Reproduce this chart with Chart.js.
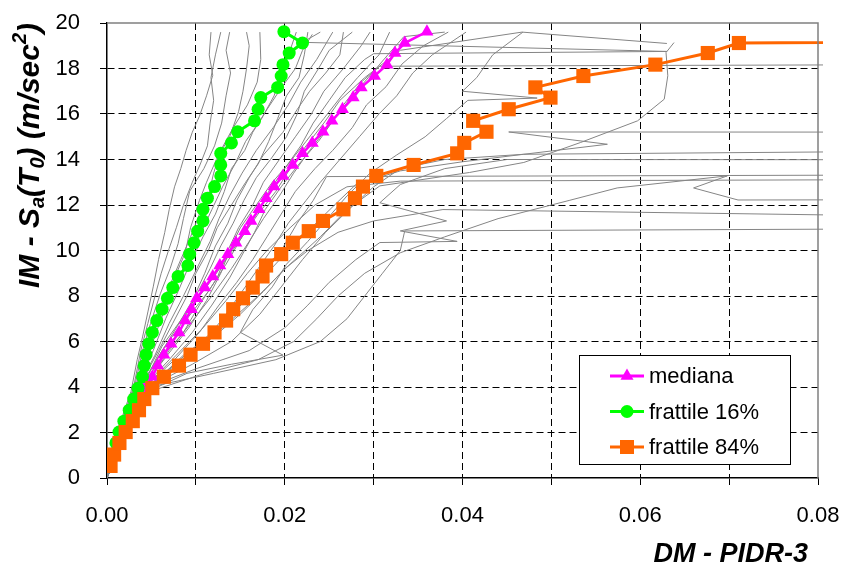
<!DOCTYPE html>
<html>
<head>
<meta charset="utf-8">
<script src="https://cdn.jsdelivr.net/npm/chart.js@4.4.1/dist/chart.umd.min.js"></script>
<style>
  html, body { margin: 0; padding: 0; background: #fff; }
  #wrap { width: 846px; height: 569px; }
</style>
</head>
<body>
<div id="wrap"><canvas id="ida" width="846" height="569"></canvas></div>
<script>
// ---- Intensity levels (Sa(T0), m/sec^2) used for the fractile curves ----
const imLevels = [0.53, 1.03, 1.54, 2.02, 2.5, 2.98, 3.47, 3.95, 4.45, 4.94,
  5.42, 5.9, 6.4, 6.92, 7.42, 7.9, 8.37, 8.86, 9.34, 9.84,
  10.34, 10.85, 11.3, 11.81, 12.3, 12.81, 13.28, 13.76, 14.27, 14.73,
  15.22, 15.7, 16.21, 16.72, 17.17, 17.67, 18.17, 18.68, 19.12, 19.62];

// PIDR-3 at each level: median, 16% and 84% fractiles
const medianDM = [0.0003, 0.0007, 0.0012, 0.0017, 0.0023, 0.0029, 0.0035, 0.0042, 0.0051, 0.0057,
  0.0064, 0.0072, 0.0081, 0.0088, 0.0095, 0.0101, 0.0110, 0.0119, 0.0127, 0.0136,
  0.0145, 0.0155, 0.0162, 0.0171, 0.0179, 0.0188, 0.0198, 0.0209, 0.0220, 0.0231,
  0.0243, 0.0253, 0.0265, 0.0277, 0.0286, 0.0301, 0.0315, 0.0324, 0.0335, 0.0360];
const fract16DM = [0.0002, 0.0006, 0.0010, 0.00135, 0.0019, 0.0025, 0.0030, 0.0035, 0.0040, 0.0042,
  0.0044, 0.0047, 0.0051, 0.0056, 0.0062, 0.0068, 0.0074, 0.0080, 0.0091, 0.0093,
  0.0098, 0.0102, 0.0108, 0.0108, 0.0113, 0.0121, 0.0128, 0.0128, 0.0128, 0.0140,
  0.0147, 0.0166, 0.0170, 0.0173, 0.0192, 0.0196, 0.0198, 0.0205, 0.0220, 0.0199];
const fract84DM = [0.0004, 0.0008, 0.0014, 0.0021, 0.0029, 0.0036, 0.0042, 0.0051, 0.0064, 0.0081,
  0.0094, 0.0108, 0.0121, 0.0134, 0.0142, 0.0153, 0.0164, 0.0175, 0.0179, 0.0196,
  0.0209, 0.0227, 0.0243, 0.0266, 0.0279, 0.0288, 0.0303, 0.0345, 0.0394, 0.0402,
  0.0427, 0.0412, 0.0452, 0.0499, 0.0482, 0.0536, 0.0617, 0.0676, 0.0711, 0.2500];

// ---- Single-record IDA curves: [PIDR-3, Sa] ----
const g01 = [[0,0],[0.0011,2.0],[0.0027,3.8],[0.0034,5.2],[0.0040,6.2],[0.0046,7.3],[0.0052,8.4],[0.0058,9.6],[0.0065,10.8],[0.0070,11.8],[0.0076,12.8],[0.0083,13.6],[0.0089,14.4],[0.0096,15.2],[0.0104,15.9],[0.0112,16.8],[0.0119,17.7],[0.0115,18.6],[0.0117,19.6]];
const g02 = [[0,0],[0.0012,2.0],[0.0030,4.0],[0.0038,5.6],[0.0046,6.8],[0.0054,8.0],[0.0061,9.0],[0.0070,10.1],[0.0078,11.0],[0.0086,12.0],[0.0096,13.0],[0.0105,13.8],[0.0113,14.6],[0.0116,15.6],[0.0120,16.6],[0.0117,17.6],[0.0122,18.6],[0.0128,19.6]];
const g03 = [[0,0],[0.0012,2.0],[0.0031,4.0],[0.0040,5.6],[0.0049,6.8],[0.0060,8.1],[0.0071,9.2],[0.0080,10.3],[0.0086,11.4],[0.0093,12.6],[0.0109,13.6],[0.0121,14.6],[0.0129,15.6],[0.0134,16.8],[0.0139,17.8],[0.0134,18.8],[0.0138,19.6]];
const g04 = [[0,0],[0.0013,2.0],[0.0032,4.0],[0.0042,5.4],[0.0051,6.4],[0.0062,7.6],[0.0076,8.8],[0.0088,9.9],[0.0094,11.0],[0.0104,12.2],[0.0112,13.0],[0.0123,14.0],[0.0138,15.0],[0.0148,16.1],[0.0153,17.0],[0.0157,18.0],[0.0160,19.0],[0.0157,19.6]];
const g05 = [[0,0],[0.0013,2.0],[0.0033,4.0],[0.0044,5.8],[0.0056,7.2],[0.0070,8.4],[0.0083,9.6],[0.0094,10.6],[0.0104,11.6],[0.0114,12.4],[0.0120,13.4],[0.0128,14.4],[0.0142,15.4],[0.0158,16.4],[0.0169,17.4],[0.0173,18.4],[0.0172,19.6]];
const g06 = [[0,0],[0.0014,2.0],[0.0033,4.0],[0.0048,5.6],[0.0061,7.0],[0.0076,8.4],[0.0090,9.6],[0.0106,10.8],[0.0118,11.8],[0.0130,12.8],[0.0144,13.8],[0.0156,14.8],[0.0174,15.8],[0.0188,16.8],[0.0196,17.8],[0.0206,18.8],[0.0213,19.6]];
const g07 = [[0,0],[0.0014,2.0],[0.0034,4.0],[0.0052,5.6],[0.0066,7.0],[0.0080,8.2],[0.0093,9.4],[0.0108,10.6],[0.0122,11.6],[0.0132,12.6],[0.0140,13.6],[0.0155,14.4],[0.0164,15.2],[0.0180,16.2],[0.0197,17.2],[0.0212,18.0],[0.0220,18.8],[0.0231,19.5]];
const g08 = [[0,0],[0.0015,2.0],[0.0035,4.0],[0.0054,5.4],[0.0070,6.8],[0.0086,8.0],[0.0101,9.2],[0.0116,10.4],[0.0126,11.4],[0.0138,12.4],[0.0152,13.4],[0.0168,14.4],[0.0187,15.4],[0.0204,16.4],[0.0218,17.4],[0.0236,18.4],[0.0254,19.6]];
const g09 = [[0,0],[0.0015,2.0],[0.0036,4.0],[0.0058,5.6],[0.0074,6.8],[0.0090,8.0],[0.0100,9.0],[0.0114,10.0],[0.0124,11.0],[0.0140,12.0],[0.0156,13.0],[0.0170,13.8],[0.0182,14.8],[0.0192,15.8],[0.0202,16.8],[0.0216,17.6],[0.0222,18.6],[0.0226,19.6]];
const g10 = [[0,0],[0.0015,2.0],[0.0037,4.0],[0.0059,5.4],[0.0078,6.6],[0.0096,7.8],[0.0110,9.0],[0.0122,10.2],[0.0136,11.2],[0.0146,12.2],[0.0160,13.2],[0.0176,14.2],[0.0198,15.2],[0.0214,16.2],[0.0228,17.0],[0.0246,17.8],[0.0262,18.6],[0.0266,19.6]];
const g11 = [[0,0],[0.0016,2.0],[0.0038,4.0],[0.0062,5.6],[0.0084,6.8],[0.0100,8.0],[0.0116,9.2],[0.0128,10.2],[0.0142,11.2],[0.0154,12.2],[0.0168,13.2],[0.0184,14.0],[0.0202,15.0],[0.0214,16.0],[0.0222,17.0],[0.0238,18.0],[0.0250,18.8],[0.0276,19.6]];
const g12 = [[0,0],[0.0016,2.0],[0.0039,4.0],[0.0064,5.4],[0.0086,6.4],[0.0104,7.6],[0.0124,8.8],[0.0136,10.0],[0.0148,11.0],[0.0164,12.0],[0.0176,13.0],[0.0194,14.0],[0.0212,15.0],[0.0230,16.0],[0.0244,17.0],[0.0266,18.0],[0.0286,19.0],[0.0296,19.6]];
const g13 = [[0,0],[0.0017,2.0],[0.0040,4.0],[0.0068,5.4],[0.0092,6.6],[0.0112,7.8],[0.0128,9.0],[0.0140,10.2],[0.0150,11.0],[0.0168,12.0],[0.0186,13.0],[0.0204,13.8],[0.0224,14.8],[0.0244,15.8],[0.0264,16.8],[0.0282,17.6],[0.0306,18.6],[0.0318,19.6]];
const g14 = [[0,0],[0.0017,2.0],[0.0041,4.0],[0.0070,5.2],[0.0096,6.4],[0.0118,7.6],[0.0138,8.8],[0.0152,9.8],[0.0166,10.8],[0.0178,11.8],[0.0196,12.8],[0.0216,13.8],[0.0238,14.8],[0.0256,15.8],[0.0272,16.6],[0.0294,17.6],[0.0316,18.6],[0.0334,19.4],[0.0380,19.6]];
const g15 = [[0,0],[0.0018,2.0],[0.0043,4.0],[0.0076,5.2],[0.0104,6.4],[0.0126,7.6],[0.0146,8.6],[0.0164,9.6],[0.0180,10.6],[0.0196,11.6],[0.0212,12.6],[0.0234,13.6],[0.0254,14.4],[0.0276,15.4],[0.0292,16.4],[0.0314,17.2],[0.0332,18.2],[0.0356,19.0],[0.0384,19.6]];
const g16 = [[0,0],[0.0018,2.0],[0.0044,4.0],[0.0080,5.0],[0.0110,6.0],[0.0134,7.2],[0.0152,8.2],[0.0170,9.2],[0.0188,10.2],[0.0204,11.2],[0.0224,12.2],[0.0240,13.0],[0.0262,14.0],[0.0284,15.0],[0.0306,16.0],[0.0326,16.8],[0.0344,17.8],[0.0366,18.6],[0.0404,19.6]];
const g17 = [[0,0],[0.0019,2.0],[0.0046,3.8],[0.0090,4.6],[0.0140,5.0],[0.0198,5.4],[0.0150,6.4],[0.0164,7.4],[0.0186,8.4],[0.0202,9.4],[0.0226,10.4],[0.0248,11.4],[0.0270,12.4],[0.0296,13.4],[0.0326,14.2],[0.0358,15.0],[0.0382,15.8],[0.0406,16.6],[0.0484,16.7],[0.0400,17.0],[0.0416,17.6],[0.0434,18.6],[0.0468,19.6]];
const g18 = [[0,0],[0.0020,2.0],[0.0048,4.0],[0.0086,5.4],[0.0130,6.6],[0.0170,8.0],[0.0206,9.4],[0.0240,10.6],[0.0270,11.8],[0.0307,12.84],[0.0408,13.43],[0.0469,13.87],[0.0533,14.75],[0.0597,15.7],[0.0627,16.65],[0.0631,17.68],[0.0629,18.7],[0.0638,19.14]];
const g19 = [[0,0],[0.0017,2.0],[0.0040,4.0],[0.0062,5.8],[0.0088,7.2],[0.0112,8.4],[0.0134,9.6],[0.0152,10.6],[0.0168,11.6],[0.0182,12.6],[0.0200,13.6],[0.0218,14.6],[0.0232,15.6],[0.0250,16.6],[0.0268,17.6],[0.0290,18.4],[0.0300,18.65],[0.0630,18.75],[0.0220,19.15],[0.0240,19.6]];
const g20 = [[0,0],[0.0018,2.0],[0.0042,4.0],[0.0070,5.6],[0.0094,6.8],[0.0118,8.0],[0.0140,9.2],[0.0160,10.4],[0.0176,11.4],[0.0194,12.4],[0.0210,13.4],[0.0228,14.4],[0.0248,15.4],[0.0266,16.4],[0.0286,17.4],[0.0307,18.1],[0.1200,18.2]];
const g21 = [[0,0],[0.0019,2.0],[0.0046,4.0],[0.0090,5.2],[0.0122,6.4],[0.0150,7.6],[0.0174,8.8],[0.0196,10.0],[0.0214,11.2],[0.0232,12.2],[0.0247,13.25],[0.1200,13.35]];
const g22 = [[0,0],[0.0020,2.0],[0.0047,4.0],[0.0096,5.0],[0.0140,6.0],[0.0172,7.2],[0.0196,8.4],[0.0220,9.6],[0.0246,10.8],[0.0272,11.8],[0.0300,12.8],[0.0330,13.6],[0.0380,14.0],[0.0469,14.23],[0.0563,14.67],[0.0452,15.21],[0.1200,15.2]];
const g23 = [[0,0],[0.0021,2.0],[0.0048,3.8],[0.0110,4.6],[0.0170,5.2],[0.0210,6.0],[0.0236,7.0],[0.0260,8.0],[0.0290,9.0],[0.0330,9.9],[0.0380,10.6],[0.0440,11.4],[0.0520,12.2],[0.0574,12.75],[0.0698,13.28],[0.0660,12.75],[0.0710,12.22],[0.1200,12.25]];
const g24 = [[0,0],[0.0020,2.0],[0.0047,4.0],[0.0100,4.8],[0.0160,5.6],[0.0200,6.6],[0.0226,7.6],[0.0250,8.6],[0.0280,9.6],[0.0307,10.35],[0.0394,10.4],[0.0330,10.86],[0.0382,11.3],[0.0307,12.1],[0.0330,12.9],[0.0380,13.6],[0.0450,14.0],[0.1200,13.98]];
const g25 = [[0,0],[0.0021,2.0],[0.0048,4.0],[0.0120,4.6],[0.0190,5.2],[0.0240,6.0],[0.0270,7.0],[0.0290,8.0],[0.0310,9.0],[0.0330,10.0],[0.0335,10.86],[0.1200,11.0]];
const g26 = [[0,0],[0.0019,2.0],[0.0045,4.0],[0.0084,5.2],[0.0120,6.2],[0.0150,7.2],[0.0176,8.2],[0.0200,9.2],[0.0226,10.0],[0.0260,10.8],[0.0300,11.3],[0.0378,11.8],[0.1200,11.35]];
const g27 = [[0,0],[0.0020,2.0],[0.0046,4.0],[0.0088,5.4],[0.0124,6.6],[0.0156,7.8],[0.0180,9.0],[0.0204,10.0],[0.0230,11.0],[0.0256,12.0],[0.0280,12.9],[0.0330,13.5],[0.0400,13.9],[0.0469,14.23],[0.1200,14.45]];
const g28 = [[0,0],[0.0016,2.0],[0.0039,4.0],[0.0066,5.6],[0.0090,7.0],[0.0114,8.2],[0.0134,9.4],[0.0152,10.6],[0.0170,11.6],[0.0190,12.6],[0.0206,13.6],[0.0224,14.6],[0.0244,15.6],[0.0262,16.6],[0.0290,17.6],[0.0330,18.8],[0.0467,19.6],[0.0630,19.1]];
const g29 = [[0,0],[0.0018,2.0],[0.0043,4.0],[0.0078,5.4],[0.0108,6.6],[0.0134,7.8],[0.0158,9.0],[0.0180,10.0],[0.0206,11.0],[0.0234,12.0],[0.0270,12.8],[0.0330,13.05],[0.1200,13.15]];

const recordCurves = [g01, g02, g03, g04, g05, g06, g07, g08, g09, g10, g11, g12, g13, g14, g15,
  g16, g17, g18, g19, g20, g21, g22, g23, g24, g25, g26, g27, g28, g29];

// ---- Axis tick labels ----
const xTickLabels = ['0.00', '0.02', '0.04', '0.06', '0.08'];
const yTickLabels = ['0', '2', '4', '6', '8', '10', '12', '14', '16', '18', '20'];

// ---- Series names ----
const seriesNames = ['mediana', 'frattile 16%', 'frattile 84%'];

const FONT = '"Liberation Sans", Arial, Helvetica, sans-serif';

function curve(dm) {
  return dm.map((d, i) => ({ x: d, y: imLevels[i] }));
}

const datasets = [];
recordCurves.forEach((rec) => {
  datasets.push({
    data: rec.map(p => ({ x: p[0], y: p[1] })),
    showLine: true,
    borderColor: '#858585',
    borderWidth: 1,
    pointRadius: 0,
    tension: 0,
    order: 10,
    clip: { left: 0, top: 0, right: 5, bottom: 0 }
  });
});
datasets.push({
  label: seriesNames[0], data: curve(medianDM), showLine: true,
  borderColor: '#ff00ff', backgroundColor: '#ff00ff', borderWidth: 2.5,
  pointStyle: 'triangle', pointRadius: 7.5, pointBorderWidth: 0, order: 3
});
datasets.push({
  label: seriesNames[1], data: curve(fract16DM), showLine: true,
  borderColor: '#00ff00', backgroundColor: '#00ff00', borderWidth: 3,
  pointStyle: 'circle', pointRadius: 6.5, pointBorderWidth: 0, order: 2
});
datasets.push({
  label: seriesNames[2], data: curve(fract84DM), showLine: true,
  borderColor: '#ff6600', backgroundColor: '#ff6600', borderWidth: 3,
  pointStyle: 'rect', pointRadius: 10, pointBorderWidth: 0, order: 1,
  clip: { left: 0, top: 0, right: 5, bottom: 0 }
});

// Plot frame: grey top and right edges
const framePlugin = {
  id: 'frame',
  afterDatasetsDraw(chart) {
    const { ctx, chartArea: a } = chart;
    ctx.save();
    ctx.strokeStyle = '#808080';
    ctx.lineWidth = 1.5;
    ctx.beginPath();
    ctx.moveTo(a.left, a.top);
    ctx.lineTo(a.right, a.top);
    ctx.lineTo(a.right, a.bottom);
    ctx.stroke();
    ctx.restore();
  }
};

function drawRich(ctx, parts, size) {
  let x = 0;
  for (const [t, k] of parts) {
    const s = k ? Math.round(size * 0.66) : size;
    ctx.font = `italic bold ${s}px ${FONT}`;
    const dy = k === 'sub' ? size * 0.16 : (k === 'sup' ? -size * 0.42 : 0);
    ctx.fillText(t, x, dy);
    x += ctx.measureText(t).width;
  }
}

// Axis titles (with sub/superscripts on the IM axis)
const titlePlugin = {
  id: 'axisTitles',
  afterDraw(chart) {
    const { ctx, chartArea: a } = chart;
    ctx.save();
    ctx.fillStyle = '#000';
    ctx.textBaseline = 'alphabetic';
    ctx.textAlign = 'left';
    ctx.translate(a.left - 68, 288);
    ctx.rotate(-Math.PI / 2);
    drawRich(ctx, [['IM - S', null], ['a', 'sub'], ['(T', null], ['0', 'sub'],
      [') (m/sec', null], ['2', 'sup'], [')', null]], 30);
    ctx.restore();

    ctx.save();
    ctx.fillStyle = '#000';
    ctx.font = `italic bold 27px ${FONT}`;
    ctx.textAlign = 'right';
    ctx.textBaseline = 'alphabetic';
    ctx.fillText('DM - PIDR-3', a.right - 10, 562);
    ctx.restore();
  }
};

// Boxed legend inside the plot, lower right
const legendPlugin = {
  id: 'boxLegend',
  afterDraw(chart) {
    const { ctx, chartArea: a } = chart;
    const w = 211, h = 109;
    const x0 = a.right - 28 - w, y0 = a.bottom - 14 - h;
    ctx.save();
    ctx.fillStyle = '#fff';
    ctx.fillRect(x0, y0, w, h);
    ctx.strokeStyle = '#000';
    ctx.lineWidth = 1;
    ctx.strokeRect(x0 + 0.5, y0 + 0.5, w, h);
    const entries = chart.data.datasets.filter(d => d.label);
    entries.forEach((d, i) => {
      const cy = y0 + 21 + i * 35.5;
      const lx0 = x0 + 31, lx1 = x0 + 65, mx = (lx0 + lx1) / 2;
      ctx.strokeStyle = d.borderColor;
      ctx.lineWidth = 3;
      ctx.beginPath();
      ctx.moveTo(lx0, cy);
      ctx.lineTo(lx1, cy);
      ctx.stroke();
      ctx.fillStyle = d.backgroundColor;
      ctx.beginPath();
      if (d.pointStyle === 'triangle') {
        const r = 7.5;
        ctx.moveTo(mx, cy - r);
        ctx.lineTo(mx + r * 0.866, cy + r * 0.5);
        ctx.lineTo(mx - r * 0.866, cy + r * 0.5);
        ctx.closePath();
      } else if (d.pointStyle === 'circle') {
        ctx.arc(mx, cy, 6.5, 0, Math.PI * 2);
      } else {
        ctx.rect(mx - 7, cy - 7, 14, 14);
      }
      ctx.fill();
      ctx.fillStyle = '#000';
      ctx.font = `22px ${FONT}`;
      ctx.textAlign = 'left';
      ctx.textBaseline = 'middle';
      ctx.fillText(d.label, x0 + 70, cy + 1);
    });
    ctx.restore();
  }
};

const near = (a, b) => Math.abs(a - b) < 1e-7;

new Chart(document.getElementById('ida'), {
  type: 'scatter',
  data: { datasets },
  options: {
    responsive: false,
    devicePixelRatio: 1,
    animation: false,
    events: [],
    layout: { padding: { top: 23, right: 28, left: 0, bottom: 0 } },
    plugins: { legend: { display: false }, tooltip: { enabled: false } },
    scales: {
      x: {
        type: 'linear', min: 0, max: 0.08,
        afterFit(s) { s.height = 91; s.paddingLeft = 0; s.paddingRight = 0; },
        ticks: {
          stepSize: 0.01, autoSkip: false, maxRotation: 0, padding: 18,
          color: '#000', font: { family: FONT, size: 22 },
          callback(v) {
            const lab = xTickLabels.find(t => near(parseFloat(t), v));
            return lab === undefined ? '' : lab;
          }
        },
        grid: {
          color: c => (near(c.tick.value, 0) || near(c.tick.value, 0.08)) ? 'rgba(0,0,0,0)' : '#000',
          lineWidth: 1, tickLength: 7, tickColor: '#000', tickBorderDash: []
        },
        border: { display: true, color: '#000', width: 1.5, dash: [7, 4] }
      },
      y: {
        type: 'linear', min: 0, max: 20,
        afterFit(s) { s.width = 107; s.paddingTop = 0; s.paddingBottom = 0; },
        ticks: {
          stepSize: 2, padding: 20, color: '#000', font: { family: FONT, size: 22 },
          callback(v) {
            const lab = yTickLabels.find(t => near(parseFloat(t), v));
            return lab === undefined ? '' : lab;
          }
        },
        grid: {
          color: c => (near(c.tick.value, 0) || near(c.tick.value, 20)) ? 'rgba(0,0,0,0)' : '#000',
          lineWidth: 1, tickLength: 7, tickColor: '#000', tickBorderDash: []
        },
        border: { display: true, color: '#000', width: 1.5, dash: [7, 4] }
      }
    }
  },
  plugins: [framePlugin, titlePlugin, legendPlugin]
});
</script>
</body>
</html>
